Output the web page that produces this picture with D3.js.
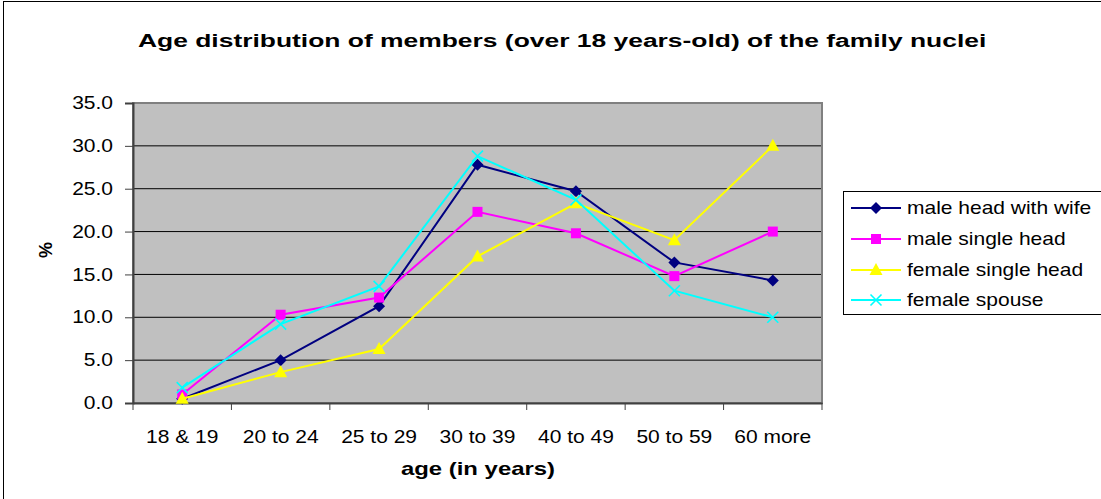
<!DOCTYPE html>
<html><head><meta charset="utf-8">
<script src="https://cdn.jsdelivr.net/npm/d3@7"></script>
<style>body{margin:0;background:#fff}svg{display:block}text{font-family:"Liberation Sans",Arial,sans-serif}</style>
</head><body>
<svg id="c" width="1101" height="499"></svg>
<script>
const categories = ["18 & 19","20 to 24","25 to 29","30 to 39","40 to 49","50 to 59","60 more"];
const maleHeadWithWife = [0.5, 5.0, 11.3, 27.8, 24.7, 16.4, 14.3];
const maleSingleHead   = [1.0, 10.3, 12.3, 22.3, 19.8, 14.8, 20.0];
const femaleSingleHead = [0.5, 3.6, 6.3, 17.1, 23.3, 19.0, 30.0];
const femaleSpouse     = [1.8, 9.2, 13.6, 28.8, 23.7, 13.1, 10.0];
const yTicks = [0,5,10,15,20,25,30,35];
const seriesNames = ["male head with wife","male single head","female single head","female spouse"];
const seriesColors = ["#000080","#FF00FF","#FFFF00","#00FFFF"];
const seriesMarkers = ["diamond","square","triangle","cross"];
const seriesValues = [maleHeadWithWife, maleSingleHead, femaleSingleHead, femaleSpouse];

const svg = d3.select("#c");
const L = 133, R = 822, T = 103, B = 403;
const K = 1.2; // horizontal text stretch

function stretch(sel, k){
  sel.each(function(){
    const t = d3.select(this);
    const x0 = +(t.attr("x")||0);
    const tr = t.attr("transform")||"";
    t.attr("x", x0/k).attr("transform", (tr+" scale("+k+",1)").trim());
  });
}
function fitLeft(t, left, width){
  t.attr("x",0).attr("text-anchor","start");
  const w = t.node().getComputedTextLength();
  t.attr("transform",`translate(${left},0) scale(${width/w},1)`);
}

svg.append("rect").attr("x",3.5).attr("y",1.5).attr("width",1110).attr("height",520)
  .attr("fill","#fff").attr("stroke","#000").attr("stroke-width",1);

const x = d3.scaleBand().domain(categories).range([L,R]).padding(0);
const y = d3.scaleLinear().domain([0,35]).range([B,T]);

svg.append("rect").attr("x",L).attr("y",T).attr("width",R-L).attr("height",B-T).attr("fill","#C0C0C0");

svg.append("g").selectAll("line").data(yTicks.filter(d=>d>0&&d<35)).join("line")
  .attr("x1",L).attr("x2",R).attr("y1",d=>y(d)).attr("y2",d=>y(d))
  .attr("stroke","#000").attr("stroke-width",1);

svg.append("rect").attr("x",L).attr("y",T).attr("width",R-L).attr("height",B-T)
  .attr("fill","none").attr("stroke","#808080").attr("stroke-width",2);

const yAxis = d3.axisLeft(y).tickValues(yTicks).tickFormat(d3.format(".1f")).tickSize(8).tickPadding(12);
const gy = svg.append("g").attr("transform",`translate(${L},0)`).call(yAxis);
gy.select(".domain").attr("stroke","#404040").attr("stroke-width",2);
gy.selectAll(".tick line").attr("stroke","#404040");
gy.selectAll("text").attr("font-size","17.5px").attr("fill","#000")
  .attr("font-family","Liberation Sans, Arial, sans-serif");
stretch(gy.selectAll("text"), K);

const xAxis = d3.axisBottom(x).tickSize(0).tickPadding(28);
const gx = svg.append("g").attr("transform",`translate(0,${B})`).call(xAxis);
gx.select(".domain").attr("stroke","#404040").attr("stroke-width",2);
gx.selectAll("text").attr("font-size","17.5px").attr("fill","#000")
  .attr("font-family","Liberation Sans, Arial, sans-serif");
stretch(gx.selectAll("text"), K);
const bounds = categories.map(c=>x(c)).concat([R]);
svg.append("g").selectAll("line").data(bounds).join("line")
  .attr("x1",d=>d).attr("x2",d=>d).attr("y1",B).attr("y2",B+7)
  .attr("stroke","#404040").attr("stroke-width",1);

const cx = c => x(c) + x.bandwidth()/2;

function marker(g, type, color, px, py){
  if(type==="diamond"){
    g.append("path").attr("d",`M${px},${py-6}L${px+6},${py}L${px},${py+6}L${px-6},${py}Z`).attr("fill",color);
  } else if(type==="square"){
    g.append("rect").attr("x",px-5).attr("y",py-5).attr("width",10).attr("height",10).attr("fill",color);
  } else if(type==="triangle"){
    g.append("path").attr("d",`M${px},${py-7}L${px+6.5},${py+5}L${px-6.5},${py+5}Z`).attr("fill",color);
  } else {
    g.append("path").attr("d",`M${px-5.5},${py-5.5}L${px+5.5},${py+5.5}M${px-5.5},${py+5.5}L${px+5.5},${py-5.5}`)
     .attr("stroke",color).attr("stroke-width",1.6);
  }
}

const line = d3.line().x((d,i)=>cx(categories[i])).y(d=>y(d));
seriesValues.forEach((vals,si)=>{
  const g = svg.append("g");
  g.append("path").attr("d",line(vals)).attr("fill","none").attr("stroke",seriesColors[si]).attr("stroke-width",2);
  vals.forEach((v,i)=>marker(g, seriesMarkers[si], seriesColors[si], cx(categories[i]), y(v)));
});

const title = svg.append("text").attr("y",47)
  .attr("font-size","19px").attr("font-weight","bold")
  .text("Age distribution of members (over 18 years-old) of the family nuclei");
fitLeft(title, 138, 849);

const xt = svg.append("text").attr("y",475)
  .attr("font-size","18.5px").attr("font-weight","bold").text("age (in years)");
fitLeft(xt, 401, 154);

svg.append("text").attr("transform","translate(52,250) rotate(-90)").attr("text-anchor","middle")
  .attr("font-size","18px").attr("font-weight","bold").text("%");

const lg = svg.append("g");
lg.append("rect").attr("x",843.5).attr("y",191.5).attr("width",300).attr("height",123)
  .attr("fill","#fff").attr("stroke","#000").attr("stroke-width",1);
const legY = [208,239,270,300];
seriesNames.forEach((n,i)=>{
  lg.append("line").attr("x1",851).attr("x2",901).attr("y1",legY[i]).attr("y2",legY[i])
    .attr("stroke",seriesColors[i]).attr("stroke-width",2);
  marker(lg, seriesMarkers[i], seriesColors[i], 876, legY[i]);
  const t = lg.append("text").attr("x",907).attr("y",legY[i]+6).attr("font-size","17.5px").text(n);
  stretch(t, K);
});
</script>
</body></html>
